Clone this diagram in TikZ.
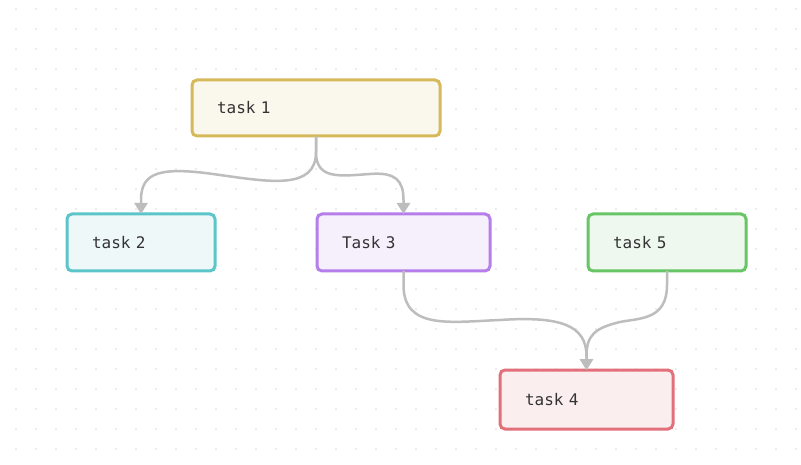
\documentclass[tikz,border=0pt]{standalone}
\usepackage{fontspec}
\newfontfamily\taskfont{DejaVu Sans Mono}
\usetikzlibrary{arrows.meta}
\definecolor{gridc}{HTML}{DCDCDC}
\definecolor{edgec}{HTML}{BDBDBD}
\definecolor{txtc}{HTML}{333333}
\definecolor{yelB}{HTML}{D5B95B}\definecolor{yelF}{HTML}{FAF7EC}
\definecolor{tealB}{HTML}{5CC5C9}\definecolor{tealF}{HTML}{EEF8F9}
\definecolor{purB}{HTML}{B57EEB}\definecolor{purF}{HTML}{F6F0FD}
\definecolor{grnB}{HTML}{67C566}\definecolor{grnF}{HTML}{EFF8EE}
\definecolor{redB}{HTML}{E2707B}\definecolor{redF}{HTML}{FBEEEF}
\tikzset{
  taskbox/.style={draw, rounded corners=5pt, line width=3pt, anchor=north west,
    outer sep=0pt, inner xsep=25pt, inner ysep=0pt, align=left, text=txtc,
    font=\taskfont\fontsize{16}{19}\selectfont},
  flow/.style={draw=edgec, line width=2.5pt,
    -{Triangle[length=11pt,width=13pt]}},
}
\begin{document}
\begin{tikzpicture}[x=1pt,y=-1pt]
  \useasboundingbox (0,0) rectangle (801,465);
  \fill[white] (0,0) rectangle (801,465);
  % dotted background grid
  \foreach \gx in {16,36,...,796}
    \foreach \gy in {9,29,...,449}
      \fill[gridc] (\gx,\gy) circle (0.8);

  % tasks
  \node[taskbox, draw=yelB, fill=yelF, text width=198pt, minimum height=56pt] (t1) at (192,80) {task 1};
  \node[taskbox, draw=tealB, fill=tealF, text width=98pt, minimum height=57pt] (t2) at (67,214) {task 2};
  \node[taskbox, draw=purB, fill=purF, text width=123pt, minimum height=57pt] (t3) at (317,214) {Task 3};
  \node[taskbox, draw=grnB, fill=grnF, text width=108pt, minimum height=57pt] (t5) at (588,214) {task 5};
  \node[taskbox, draw=redB, fill=redF, text width=123pt, minimum height=59pt] (t4) at (500,370) {task 4};

  % dependencies
  \draw[flow] (t1.south) -- ++(0,16)
     .. controls +(0,38) and (270,182) .. (220,175)
     .. controls (160,166) and (141,172) .. (141,200) -- (t2.north);
  \draw[flow] (t1.south) -- ++(0,16)
     .. controls +(0,28) and (340,176) .. (370,174)
     .. controls (395,172) and (403.5,180) .. (403.5,200) -- (t3.north);
  \draw[flow] (t3.south) -- ++(0,14)
     .. controls +(0,45) and (450,322) .. (500,320)
     .. controls (560,316) and (586.5,325) .. (586.5,356) -- (t4.north);
  \draw[flow] (t5.south) -- ++(0,14)
     .. controls +(0,35) and (640,318) .. (620,322)
     .. controls (595,328) and (586.5,335) .. (586.5,356) -- (t4.north);
\end{tikzpicture}
\end{document}
